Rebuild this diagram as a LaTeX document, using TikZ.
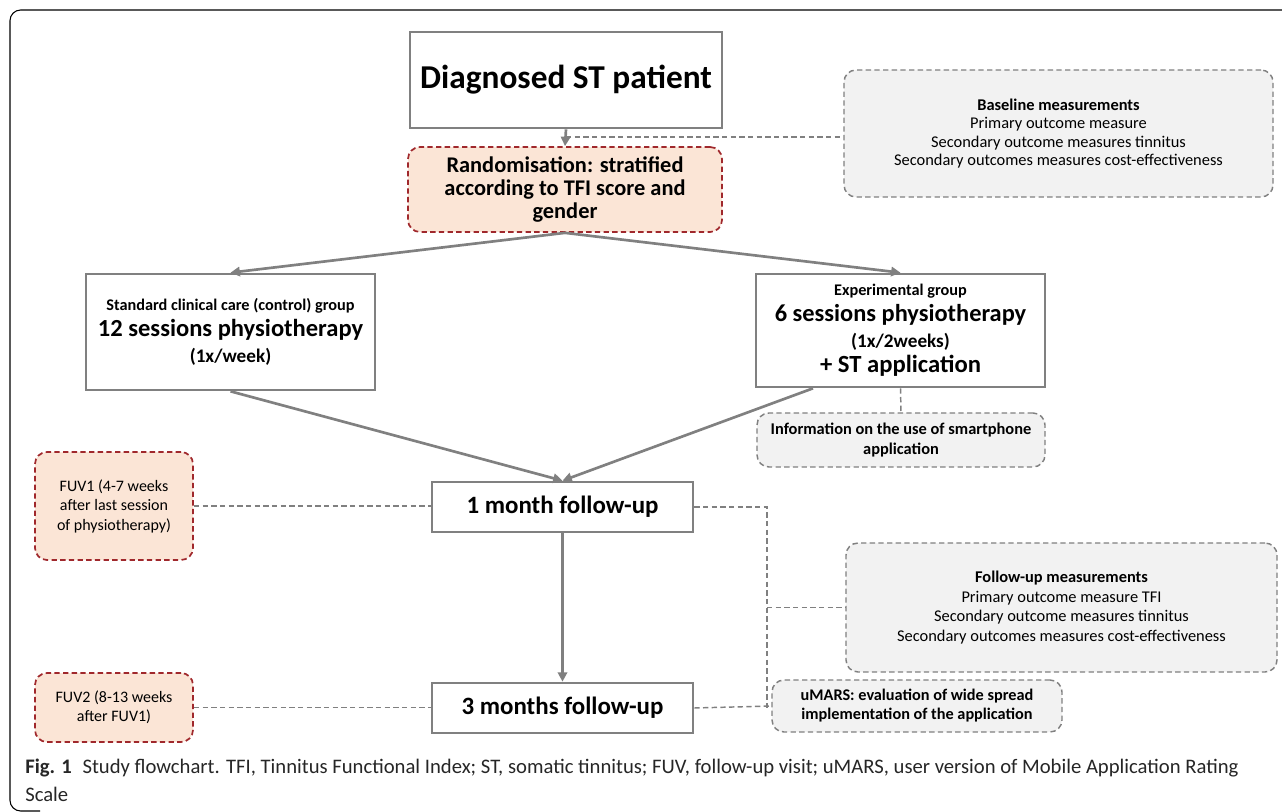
\documentclass[tikz,border=0pt]{standalone}
\usepackage{fontspec}
\setmainfont{Carlito}
\usetikzlibrary{arrows.meta,calc}

\definecolor{boxgray}{HTML}{808080}
\definecolor{lightgray}{HTML}{F2F2F2}
\definecolor{peach}{HTML}{FBE5D6}
\definecolor{darkred}{HTML}{A0282C}

\def\fsz#1#2{\fontsize{#1}{#2}\selectfont}

\begin{document}
\begin{tikzpicture}[x=0.75pt,y=-0.75pt,
  boxsize/.style 2 args={minimum width=#1*0.75pt,minimum height=#2*0.75pt},
  stepbox/.style={draw=boxgray,line width=2pt,fill=white,inner sep=0pt,align=center,font=\bfseries},
  redbox/.style={draw=darkred,dash pattern=on 4pt off 2.5pt,line width=1.3pt,fill=peach,rounded corners=9pt,inner sep=0pt,align=center},
  graybox/.style={draw=boxgray,dash pattern=on 4pt off 2.5pt,line width=1.1pt,fill=lightgray,rounded corners=9pt,inner sep=0pt,align=center},
  arr/.style={draw=boxgray,line width=2pt,-{Triangle[length=7pt,width=7pt]}},
  dline/.style={draw=boxgray,dash pattern=on 4pt off 2.5pt,line width=1.1pt}]
  \useasboundingbox (0,0) rectangle (1282,812);
  \draw[line width=0.8pt,rounded corners=8pt] (1290,10) -| (10,811) -- (40,811);

  % main column
  \node[stepbox,boxsize={312}{96}] (diag) at (566,80) {\fsz{25}{30}Diagnosed ST patient};
  \node[redbox,boxsize={314}{85},font=\bfseries\fsz{16.8}{17.3}] (rand) at (565,189.5)
    {Randomisation: stratified\\according to TFI score and\\gender};
  \node[stepbox,boxsize={289}{116},font=\bfseries\fsz{12.2}{19.2}] (ctrl) at (230.5,332)
    {Standard clinical care (control) group\\\fsz{18.4}{19.2}12 sessions physiotherapy\\\fsz{14.4}{19.2}(1x/week)};
  \node[stepbox,boxsize={289}{113},font=\bfseries\fsz{12.2}{19.3}] (expt) at (900.5,330.5)
    {Experimental group\\\fsz{18.3}{19.3}6 sessions physiotherapy\\\fsz{14.4}{19.3}(1x/2weeks)\\\fsz{18.5}{19.3}+ ST application};
  \node[graybox,boxsize={288}{54},font=\bfseries\fsz{12.3}{14.3}] (info) at (901,440)
    {Information on the use of smartphone\\application};
  \node[stepbox,boxsize={261}{50}] (fu1) at (562.5,507) {\fsz{18.7}{22}1 month follow-up};
  \node[stepbox,boxsize={261}{50}] (fu3) at (562.5,708) {\fsz{18.7}{22}3 months follow-up};

  % visits
  \node[redbox,boxsize={158}{108},font=\fsz{12}{14.6}] (fuv1) at (114,506)
    {FUV1 (4-7 weeks\\after last session\\of physiotherapy)};
  \node[redbox,boxsize={158}{69},font=\fsz{12}{14.6}] (fuv2) at (114,707.5)
    {FUV2 (8-13 weeks\\after FUV1)};

  % measurements
  \node[graybox,boxsize={429}{127},font=\fsz{12.3}{13.9}] (base) at (1058.5,133.5)
    {\textbf{Baseline measurements}\\Primary outcome measure\\Secondary outcome measures tinnitus\\Secondary outcomes measures cost-effectiveness};
  \node[graybox,boxsize={431}{129},font=\fsz{12.3}{14.6}] (fum) at (1061.5,607.5)
    {\textbf{Follow-up measurements}\\Primary outcome measure TFI\\Secondary outcome measures tinnitus\\Secondary outcomes measures cost-effectiveness};
  \node[graybox,boxsize={290}{52},font=\bfseries\fsz{12.2}{14.3}] (umars) at (917,706)
    {uMARS: evaluation of wide spread\\implementation of the application};

  % connectors
  \draw[arr] (diag.south) -- (rand.north);
  \coordinate (bj) at (566,137);
  \draw[dline] (bj) -- (bj -| base.west);
  \draw[arr] (rand.south) -- (ctrl.north);
  \draw[arr] (rand.south) -- (expt.north);
  \draw[dline] (expt.south) -- (info.north);
  \draw[arr] (ctrl.south) -- (fu1.north);
  \draw[arr] ($(expt.south west)!0.2!(expt.south east)$) -- (fu1.north);
  \draw[arr] (fu1.south) -- (fu3.north);
  \draw[dline] (fuv1.east) -- (fuv1.east -| fu1.west);
  \draw[dline] (fuv2.east) -- (fuv2.east -| fu3.west);
  \coordinate (jn) at (767,507);
  \draw[dline] (fu1.east) -- (jn) -- (jn |- fu3.east);
  \draw[dline] (jn |- fum.west) -- (fum.west);
  \draw[dline] (fu3.east) -- (umars.west);

  % caption
  \node[anchor=base west,align=left,inner sep=0pt,font=\fsz{15.5}{20.3},text=black!85] (cap) at (25,801)
    {\textbf{Fig. 1}\hspace{8pt}Study flowchart. TFI, Tinnitus Functional Index; ST, somatic tinnitus; FUV, follow-up visit; uMARS, user version of Mobile Application Rating\\Scale};
\end{tikzpicture}
\end{document}
